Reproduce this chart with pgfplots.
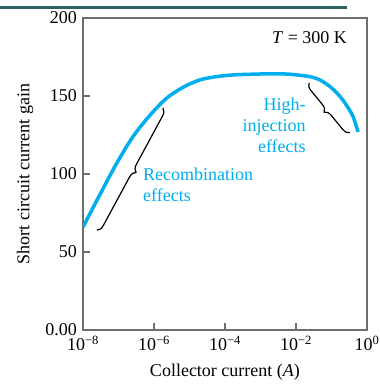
\documentclass[border=0pt]{standalone}
\usepackage{fontspec}
\setmainfont{Liberation Serif}
\usepackage{pgfplots}
\pgfplotsset{compat=1.18}
\usetikzlibrary{decorations.pathreplacing}
\definecolor{cyanline}{RGB}{0,174,239}
\definecolor{headbar}{RGB}{46,98,96}
\definecolor{framegray}{RGB}{110,110,110}
\begin{document}
\fontsize{18}{21}\selectfont
\begin{tikzpicture}[x=1pt,y=1pt]
\useasboundingbox (0,0) rectangle (380,384);
\draw[headbar, line width=3pt] (0,376.5) -- (347,376.5);
\begin{axis}[
  at={(83pt,54pt)}, anchor=south west,
  scale only axis, width=284pt, height=312pt,
  xmode=log, xmin=1e-8, xmax=1, ymin=0, ymax=200,
  xtick={1e-8,1e-6,1e-4,1e-2,1},
  xticklabels={10\textsuperscript{−8},10\textsuperscript{−6},10\textsuperscript{−4},10\textsuperscript{−2},10\textsuperscript{0}},
  ytick={0,50,100,150,200},
  yticklabels={0.00,50,100,150,200},
  xminorticks=false,
  tick align=inside, xtick pos=bottom, ytick pos=left,
  major tick length=7pt,
  axis line style={framegray, line width=1.1pt},
  tick style={framegray, line width=1.1pt},
  xlabel={Collector current (\textit{A})},
  ylabel={Short circuit current gain},
  xlabel style={at={(axis description cs:0.5,-0.134)}, anchor=center},
  ylabel style={at={(axis description cs:-0.204,0.5)}, anchor=center},
]
\addplot[cyanline, line width=3.5pt, smooth] coordinates {
(1e-8,66) (2.95e-8,86.5) (8.71e-8,106.5) (2.57e-7,124) (7.59e-7,137.5)
(2.24e-6,148.5) (6.61e-6,155.6) (1.95e-5,160.3) (5.75e-5,162.4) (1.70e-4,163.5)
(6.31e-4,164) (1.86e-3,164.2) (6.31e-3,164) (0.0245,162.4) (0.0501,160)
(0.0912,156) (0.141,152) (0.209,147.4) (0.302,142) (0.407,136.7) (0.562,127)
};
\draw[black, line width=1.2pt, decorate, decoration={brace, amplitude=7pt}]
  (axis cs:1.78e-6,142.3) -- (axis cs:2.45e-8,64);
\draw[black, line width=1.2pt, decorate, decoration={brace, amplitude=7pt}]
  (axis cs:0.331,126.5) -- (axis cs:0.0234,158.5);
\node[cyanline, align=left, anchor=west, inner sep=0pt] at (axis cs:4.9e-7,93) {Recombination\\effects};
\node[cyanline, align=right, anchor=east, inner sep=0pt] at (axis cs:0.019,131.4) {High-\\injection\\effects};
\node[black, anchor=east, inner sep=0pt] at (axis description cs:0.93,0.936) {\textit{T} = 300 K};
\end{axis}
\end{tikzpicture}
\end{document}
